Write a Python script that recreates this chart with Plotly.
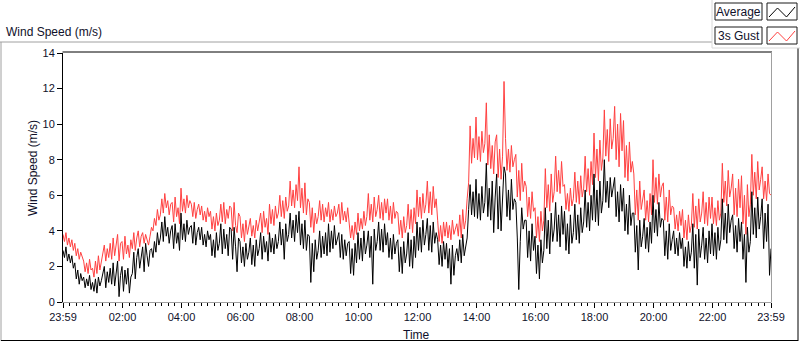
import pandas as pd
import plotly.graph_objects as go

# ---- data (3-minute samples from 23:59 to 23:59 next day) ----
start_time = "2014-06-01 23:59"
sample_minutes = 3

gust = [
    3.8,3.4,3.9,3.2,3.6,3.1,3.5, 2.9,3.3,2.6,3.0,2.4,2.8,2.5, 2.3,1.7,2.2,1.6,2.4,1.8,
    1.9,1.4,2.3,1.6,2.6,1.8,2.2, 2.7,3.2,2.3,3.0,2.5,3.3,2.4, 3.6,2.6,3.1,3.8,2.3,3.3,
    3.4,2.4,3.7,2.7,3.2,2.5,3.5, 3.0,3.9,2.9,3.6,4.0,3.1,3.7, 3.9,3.3,3.8,3.5,3.2,3.7,
    4.2,4.0,4.7,4.3,5.2,4.6,4.9, 5.8,5.0,6.1,5.3,5.7,4.9,5.5, 5.6,4.5,5.9,4.8,5.3,4.4,
    6.4,5.1,5.8,5.0,6.0,5.3,5.7, 5.5,4.8,5.6,4.7,5.2,5.5,4.9, 5.4,4.6,5.1,4.5,5.3,4.8,
    5.1,4.1,4.8,4.0,5.0,4.3,4.6, 5.5,4.5,5.6,4.4,5.2,4.7,5.4, 5.3,4.0,5.6,4.3,3.9,5.0,
    4.8,3.6,4.4,3.4,4.6,3.8,4.2, 4.7,3.7,4.3,3.6,4.6,4.0,4.4, 5.0,3.9,5.1,4.2,4.7,3.8,
    5.5,4.4,5.2,4.3,5.4,4.7,5.0, 6.0,4.8,5.7,4.7,5.9,5.1,5.4, 6.8,5.4,6.3,5.3,6.6,5.7,
    7.6,5.3,6.4,5.0,6.7,4.9,5.8, 5.6,4.2,5.3,3.9,5.0,4.4,4.8, 5.7,4.6,5.5,4.5,5.3,4.8,
    5.6,4.5,5.2,4.6,5.4,4.8,5.0, 5.5,4.4,5.6,4.6,5.1,4.5,5.3, 4.6,3.6,4.3,3.5,4.5,3.8,
    5.0,4.0,4.7,4.1,5.1,4.3,4.8, 6.1,4.6,5.5,4.5,5.9,4.8,5.2, 6.0,4.7,5.6,4.6,5.8,5.0,
    5.8,4.6,5.4,4.4,5.6,4.7,5.1, 5.0,3.8,4.6,3.6,4.8,3.9,4.3, 5.5,4.1,5.2,3.9,5.3,4.4,
    6.3,4.8,5.9,4.7,6.1,5.0,5.5, 6.8,5.0,6.2,4.9,6.5,5.3,5.8, 4.6,3.4,4.3,3.3,4.5,3.7,
    4.5,3.6,4.3,3.5,4.6,3.8,4.1, 4.4,3.7,4.9,3.6,5.2,4.1,4.6, 5.8,6.7,9.9,7.8,9.2,8.1,
    10.4,8.0,9.3,7.9,9.6,8.4,8.9, 11.2,7.7,9.4,7.5,8.8,7.2,9.0, 9.4,7.0,8.6,6.9,8.2,12.4,
    9.2,7.4,8.6,7.3,8.8,7.6,8.0, 8.3,5.9,7.4,5.7,7.8,6.2,6.8, 6.5,4.8,5.9,4.7,6.2,5.1,
    5.3,3.6,4.8,3.4,5.1,4.0,4.6, 7.5,5.3,6.6,5.1,7.2,5.6,6.2, 8.2,6.2,7.4,6.1,7.9,6.5,
    6.6,5.2,6.1,5.1,6.4,5.4,5.8, 7.3,5.6,6.8,5.5,7.1,5.9,6.4, 8.2,6.2,7.5,6.0,7.9,6.6,
    9.5,7.0,8.6,6.8,9.1,7.4,8.1, 10.8,8.2,9.7,7.9,10.3,8.6,9.2, 11.0,8.0,10.0,7.6,10.6,8.5,
    10.2,7.0,8.8,6.8,9.0,7.3,7.9, 7.2,4.9,6.3,4.6,6.8,5.2,5.8, 6.3,4.6,5.7,4.5,6.1,4.9,
    8.0,5.6,7.0,5.5,7.2,5.9,6.5, 6.7,4.6,5.9,4.5,6.3,4.9,5.4, 5.3,4.1,4.9,4.0,5.1,4.3,
    5.2,3.6,4.6,3.5,4.9,3.9,4.3, 6.1,4.2,5.4,4.1,5.8,4.5,5.0, 6.2,4.4,5.6,4.3,5.9,4.7,
    5.9,4.4,5.3,4.3,5.7,4.6,5.0, 7.8,5.6,6.8,5.4,7.4,5.9,6.4, 7.2,4.9,6.4,4.8,6.9,5.3,
    7.1,4.4,6.0,3.8,6.6,4.8,5.5, 8.3,6.0,7.3,5.8,7.9,6.3,6.9, 7.6,5.8,6.8,5.7,7.2,6.1,
    6.0,
]

average = [
    2.9,2.5,3.1,2.3,2.7,2.2,2.6, 1.9,2.2,1.3,1.8,1.0,1.6,1.2, 1.4,0.8,1.3,0.9,1.5,0.7,
    1.1,0.6,1.3,0.5,1.4,0.9,1.2, 1.6,2.0,0.8,1.7,1.1,1.9,1.0, 2.2,0.9,1.6,2.3,0.3,1.5,
    2.0,0.6,1.8,1.0,1.9,0.5,1.4, 1.6,2.8,1.3,2.5,3.0,1.9,2.4, 3.1,1.7,3.3,2.6,2.0,2.9,
    3.0,2.5,3.4,2.8,3.9,3.2,3.6, 4.5,3.4,4.8,3.7,4.2,3.3,4.0, 4.3,3.0,4.4,3.3,3.9,2.9,
    5.0,3.5,4.4,3.4,4.6,3.8,4.2, 4.3,3.3,4.5,3.2,3.9,4.2,3.5, 4.2,3.2,3.8,3.1,4.0,3.5,
    3.8,2.6,3.5,2.5,3.9,2.9,3.3, 4.4,2.7,4.1,3.0,3.8,2.6,4.2, 4.1,2.4,4.2,3.1,1.7,3.6,
    3.4,2.2,3.1,2.0,3.3,2.4,2.8, 3.6,2.1,3.2,2.0,3.5,2.6,3.0, 3.9,2.4,3.7,2.8,3.4,2.3,
    3.9,2.8,3.6,2.7,3.8,3.0,3.4, 4.5,3.2,4.1,2.4,4.4,3.4,3.8, 5.0,3.6,4.6,3.4,4.9,3.9,
    5.1,3.2,4.4,3.0,4.6,2.9,3.8, 3.7,1.1,3.3,1.7,3.5,2.4,2.9, 4.0,2.5,3.7,2.7,3.9,2.6,
    4.4,2.8,4.0,3.0,4.3,3.2,3.6, 3.9,2.5,3.8,2.4,3.5,2.6,3.3, 3.4,1.6,3.0,1.5,3.3,2.2,
    3.9,2.4,3.6,2.3,4.0,2.7,3.2, 4.0,2.5,3.7,1.0,4.1,2.9,3.4, 4.5,2.9,4.1,2.8,4.4,3.2,
    3.9,2.5,3.6,2.4,3.8,2.7,3.3, 3.5,1.7,3.1,1.6,3.4,2.2,2.7, 3.9,2.0,3.5,1.9,3.7,2.5,
    4.5,2.9,4.2,2.8,4.6,3.2,3.8, 4.7,2.9,4.3,2.8,4.5,3.3,3.9, 3.5,2.1,3.2,2.0,3.4,2.4,
    3.3,1.9,3.0,1.0,3.2,1.5,2.6, 3.0,2.3,3.5,2.2,3.8,2.6,3.2, 3.6,5.2,6.6,4.9,6.2,4.8,
    6.9,4.7,6.1,4.6,6.5,5.0,5.6, 7.8,4.8,6.4,4.6,6.8,3.9,5.9, 7.2,4.1,6.5,4.0,5.8,7.6,
    7.2,4.8,6.3,4.6,6.9,5.2,5.8, 5.6,3.6,0.7,3.4,5.3,4.1,4.6, 4.6,2.5,4.0,2.3,4.4,2.9,
    3.7,1.6,3.2,1.3,3.5,2.2,2.9, 5.3,3.0,4.6,2.7,5.0,3.4,4.1, 5.6,3.4,4.9,3.1,5.4,3.8,
    5.1,2.9,4.4,2.7,4.9,3.3,3.9, 5.5,3.5,4.9,3.3,5.3,3.9,4.5, 6.3,4.2,5.6,4.0,6.0,4.6,
    7.2,4.5,6.3,4.3,6.8,5.0,5.7, 8.0,5.6,6.8,5.3,7.0,5.9,6.4, 7.0,4.8,6.2,4.5,6.6,5.1,
    6.4,4.0,5.5,3.8,6.0,4.3,5.0, 5.0,2.8,4.3,1.8,4.6,3.1,3.7, 4.7,3.0,4.2,2.8,4.5,3.3,
    6.0,3.9,5.2,3.7,5.6,4.2,4.7, 4.6,2.6,4.0,2.4,4.4,2.9,3.5, 4.0,2.7,3.6,2.6,3.9,3.0,
    3.6,2.0,3.1,1.9,3.4,2.3,2.8, 4.4,1.9,3.8,0.95,4.1,2.5,3.2, 4.2,2.4,3.6,2.2,4.0,2.7,
    4.4,2.6,3.9,2.4,4.2,2.9,3.5, 5.8,3.5,5.0,3.3,5.5,3.9,4.6, 4.9,3.0,4.3,2.8,4.7,3.4,
    4.5,2.4,3.8,1.1,4.2,2.8,3.4, 6.2,3.8,5.3,3.6,5.9,4.1,4.8, 5.8,3.0,5.0,3.4,5.5,1.5,
    3.0,
]

tick_labels = ["23:59", "02:00", "04:00", "06:00", "08:00", "10:00", "12:00",
               "14:00", "16:00", "18:00", "20:00", "22:00", "23:59"]
y_ticks = [0, 2, 4, 6, 8, 10, 12, 14]
series_names = ["Average", "3s Gust"]

# ---- build ----
times = pd.date_range(start_time, periods=len(gust), freq=f"{sample_minutes}min")
t0 = times[0]
t_end = times[-1]
major = [t0] + [pd.Timestamp("2014-06-02") + pd.Timedelta(hours=h) for h in range(2, 24, 2)] + [t_end]
minor = []
for a, b in zip(major[:-1], major[1:]):
    step = (b - a) / 9
    for i in range(1, 9):
        minor.append(a + step * i)

W, H = 800, 342
L, R, T, B = 63, 771, 53, 302   # plot area in pixels

def px(x):
    return (x - L) / (R - L)

def py(y):
    return (B - y) / (B - T)

FONT = "Liberation Sans, Arial, sans-serif"
TXT = "#10102a"
RED = "#ff4040"

fig = go.Figure()
fig.add_trace(go.Scatter(x=times, y=gust, mode="lines", name=series_names[1],
                         line=dict(color=RED, width=1), showlegend=False))
fig.add_trace(go.Scatter(x=times, y=average, mode="lines", name=series_names[0],
                         line=dict(color="#000000", width=1), showlegend=False))

fig.update_layout(
    width=W, height=H, autosize=False,
    margin=dict(l=L, r=W - R, t=T, b=H - B, pad=0),
    paper_bgcolor="white", plot_bgcolor="white",
    font=dict(family=FONT, size=11, color=TXT),
    xaxis=dict(
        type="date", range=[t0, t_end],
        tickmode="array", tickvals=major, ticktext=tick_labels,
        ticks="outside", ticklen=5, tickwidth=1, tickcolor="#000",
        showgrid=False, zeroline=False,
        showline=True, linecolor="#a0a0a0", linewidth=1,
        tickfont=dict(family=FONT, size=11, color=TXT),
        minor=dict(tickmode="array", tickvals=minor, ticks="outside",
                   ticklen=3, tickwidth=1, tickcolor="#000", showgrid=False),
    ),
    yaxis=dict(
        range=[0, 14], tickmode="array", tickvals=y_ticks,
        ticks="outside", ticklen=5, tickwidth=1, tickcolor="#000",
        showgrid=False, zeroline=False,
        showline=True, linecolor="#000", linewidth=1,
        tickfont=dict(family=FONT, size=11, color=TXT),
    ),
)

shapes = []
def line(x0, y0, x1, y1, color, width=1):
    shapes.append(dict(type="line", xref="paper", yref="paper",
                       x0=px(x0), y0=py(y0), x1=px(x1), y1=py(y1),
                       line=dict(color=color, width=width)))

# plot area top/right borders
line(62.5, 52, 772, 52, "#000")
line(771.5, 52, 771.5, 302.5, "#a0a0a0")
# outer frame
line(0, 42, 712, 42, "#a0a0a0")
line(1, 42, 1, 341, "#a0a0a0")
line(1, 340.5, 798, 340.5, "#000")
line(798, 48, 798, 341, "#000")
# legend panel edges
line(712, 0, 712, 48, "#d8d8d8")
line(712, 48, 800, 48, "#d8d8d8")

# legend boxes
for (x0, y0, x1, y1) in [(715, 3, 762, 20), (767, 3, 797, 20), (715, 27, 762, 44), (767, 27, 797, 44)]:
    shapes.append(dict(type="rect", xref="paper", yref="paper",
                       x0=px(x0), y0=py(y1), x1=px(x1), y1=py(y0),
                       line=dict(color="#1a1a1a", width=1), fillcolor="white"))

def zig(ytop, color):
    pts = [(769, ytop + 14), (777.5, ytop + 5), (786.5, ytop + 14), (795, ytop + 4)]
    path = "M " + " L ".join(f"{px(a)},{py(b)}" for a, b in pts)
    shapes.append(dict(type="path", xref="paper", yref="paper", path=path,
                       line=dict(color=color, width=1)))

zig(3, "#000")
zig(27, RED)

fig.update_layout(shapes=shapes)

ann = [
    dict(text="Wind Speed (m/s)", x=px(4), y=py(32), xanchor="left", yanchor="middle",
         font=dict(size=12)),
    dict(text="Wind Speed (m/s)", x=px(33), y=py(168), xanchor="center", yanchor="middle",
         textangle=-90, font=dict(size=12)),
    dict(text="Time", x=px(416.5), y=py(335), xanchor="center", yanchor="middle",
         font=dict(size=12)),
    dict(text=series_names[0], x=px(738.5), y=py(12), xanchor="center", yanchor="middle",
         font=dict(size=12)),
    dict(text=series_names[1], x=px(738.5), y=py(35.5), xanchor="center", yanchor="middle",
         font=dict(size=12)),
]
for a in ann:
    a.update(xref="paper", yref="paper", showarrow=False)
    a["font"] = dict(family=FONT, color=TXT, **a["font"])
fig.update_layout(annotations=ann)

fig.write_html("out.html", config={"displayModeBar": False},
               post_script="document.body.style.margin='0';")
